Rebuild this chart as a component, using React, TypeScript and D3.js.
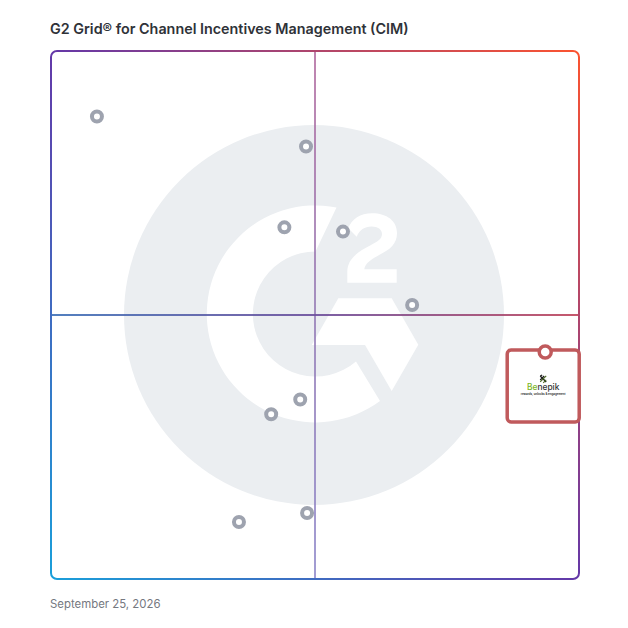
import { useEffect, useRef } from 'react';
import * as d3 from 'd3';

const SIZE = 628;
const titleText = 'G2 Grid® for Channel Incentives Management (CIM)';
const dateText = 'September 25, 2026';

// market presence (x) / satisfaction (y), 0-100
const vendorX = [8.7, 48.3, 44.2, 55.3, 68.4, 47.2, 41.7, 48.5, 35.6];
const vendorY = [87.6, 81.9, 66.6, 65.8, 51.9, 34, 31.2, 12.5, 10.8];
const focusX = [93.6];
const focusY = [43];
const focusName = ['Be', 'nepik'];
const focusTagline = 'rewards, unlocks & engagement';

export default function App() {
  const svgRef = useRef<SVGSVGElement>(null);

  useEffect(() => {
    if (!svgRef.current) return;
    const svg = d3.select(svgRef.current);
    svg.selectAll('*').remove();

    const x = d3.scaleLinear().domain([0, 100]).range([51, 579]);
    const y = d3.scaleLinear().domain([0, 100]).range([579, 51]);

    const defs = svg.append('defs');
    const addGradient = (id: string, x1: number, y1: number, x2: number, y2: number, colors: string[]) => {
      const grad = defs.append('linearGradient')
        .attr('id', id)
        .attr('gradientUnits', 'userSpaceOnUse')
        .attr('x1', x1).attr('y1', y1)
        .attr('x2', x2).attr('y2', y2);
      colors.forEach((c, i) => {
        grad.append('stop').attr('offset', `${(i / (colors.length - 1)) * 100}%`).attr('stop-color', c);
      });
    };
    // border colour runs blue (bottom left) -> purple -> orange (top right)
    addGradient('gridStroke', x(0), y(0), x(100), y(100), ['#1a9fda', '#6438a8', '#fb5330']);
    addGradient('midH', x(0), 0, x(100), 0, ['#3f72b8', '#6c4f9c', '#c0465c']);
    addGradient('midV', 0, y(100), 0, y(0), ['#b0669c', '#9278b4', '#8b84c8']);

    svg.append('text')
      .attr('x', 50).attr('y', 34)
      .attr('font-family', 'Inter, sans-serif')
      .attr('font-size', 14.35)
      .attr('font-weight', 600)
      .attr('fill', '#2f3238')
      .text(titleText);

    // G2 watermark
    const logo = svg.append('g');
    logo.append('circle').attr('cx', 314).attr('cy', 315).attr('r', 190).attr('fill', '#ebeef1');
    logo.append('path')
      .attr('fill', '#fff')
      .attr('d', 'M336.5,207.5 A108.5,108.5 0 1 0 380,401 L356,361.5 A62.5,62.5 0 1 1 315.5,251.5 Z');
    logo.append('path')
      .attr('fill', '#fff')
      .attr('d', 'M338.3,298.3 L391.7,298.3 L418.3,344.8 L391.7,391 L365,345 L311.7,345 Z');
    logo.append('path')
      .attr('fill', '#fff')
      .attr('d', 'M347.3,282.7 L396.7,282.7 L396.7,269.3 L364.3,269.3 C365,263 372,259 380,254.5 C390,249.5 397,244 397,233 C397,221 387,213.3 372,213.3 C360.5,213.3 351.5,219 348.3,228.3 L356.7,236.7 C359.5,230 364.5,226.5 371.5,226.5 C378,226.5 382,229.5 382,234 C382,238.5 378.5,241 371,245 C356,252.5 347.3,260 347.3,272 Z');

    // quadrant lines and frame
    svg.append('rect')
      .attr('x', x(50) - 0.8).attr('y', y(100)).attr('width', 1.6).attr('height', y(0) - y(100))
      .attr('fill', 'url(#midV)');
    svg.append('rect')
      .attr('x', x(0)).attr('y', y(50) - 0.9).attr('width', x(100) - x(0)).attr('height', 1.8)
      .attr('fill', 'url(#midH)');
    svg.append('rect')
      .attr('x', x(0)).attr('y', y(100))
      .attr('width', x(100) - x(0)).attr('height', y(0) - y(100))
      .attr('rx', 6)
      .attr('fill', 'none')
      .attr('stroke', 'url(#gridStroke)')
      .attr('stroke-width', 2);

    // vendors
    svg.append('g').selectAll('circle')
      .data(vendorX.map((v, i) => ({ x: v, y: vendorY[i] })))
      .enter()
      .append('circle')
      .attr('cx', d => x(d.x))
      .attr('cy', d => y(d.y))
      .attr('r', 5)
      .attr('fill', '#fff')
      .attr('stroke', '#9ea3af')
      .attr('stroke-width', 4);

    // highlighted vendor card
    const fx = x(focusX[0]);
    const fy = y(focusY[0]);
    const card = svg.append('g').attr('transform', `translate(${fx},${fy})`);
    card.append('rect')
      .attr('x', -38).attr('y', -2)
      .attr('width', 72).attr('height', 72)
      .attr('rx', 4)
      .attr('fill', '#fff')
      .attr('stroke', '#c05a5c')
      .attr('stroke-width', 3.5);
    card.append('circle')
      .attr('r', 6)
      .attr('fill', '#fff')
      .attr('stroke', '#c05a5c')
      .attr('stroke-width', 3.5);

    // Benepik mark
    const mark = card.append('g').attr('transform', 'translate(-2,27)');
    mark.append('path').attr('d', 'M-3,-3 L3,3 M-3,1 L1,-3 M-3,-3 L-1,-4').attr('stroke', '#1c1c1c').attr('stroke-width', 1.3).attr('fill', 'none');
    mark.append('path').attr('d', 'M3,-3 L-3,3 M3,1 L0,4').attr('stroke', '#4a6a22').attr('stroke-width', 1.1).attr('fill', 'none');

    const name = card.append('text')
      .attr('x', -2).attr('y', 38.5)
      .attr('text-anchor', 'middle')
      .attr('font-family', 'Inter, sans-serif')
      .attr('font-size', 8.4)
      .attr('font-weight', 500);
    name.append('tspan').attr('fill', '#7ab51d').text(focusName[0]);
    name.append('tspan').attr('fill', '#333').text(focusName[1]);
    card.append('text')
      .attr('x', -2).attr('y', 43)
      .attr('text-anchor', 'middle')
      .attr('font-family', 'Inter, sans-serif')
      .attr('font-size', 2.9)
      .attr('font-weight', 600)
      .attr('fill', '#222')
      .text(focusTagline);

    svg.append('text')
      .attr('x', 50).attr('y', 608)
      .attr('font-family', 'Inter, sans-serif')
      .attr('font-size', 11.4)
      .attr('fill', '#75787f')
      .text(dateText);
  }, []);

  return (
    <svg
      ref={svgRef}
      width={SIZE}
      height={SIZE}
      style={{ position: 'absolute', left: 0, top: 0, background: '#fff' }}
    />
  );
}
